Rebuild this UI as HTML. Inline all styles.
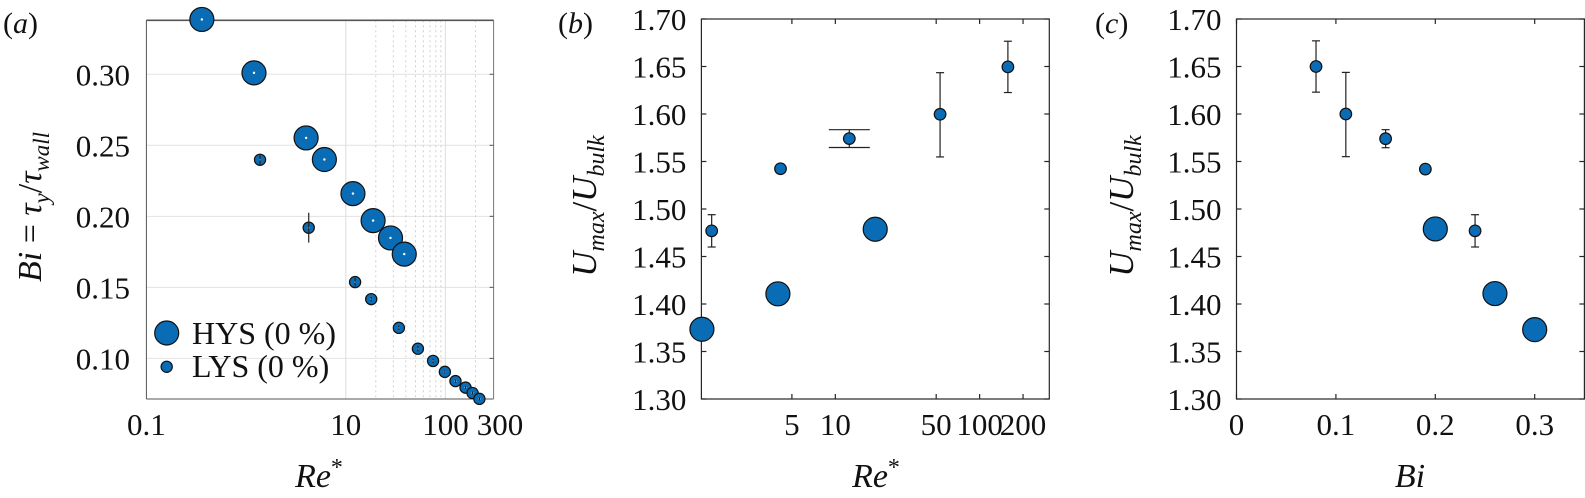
<!DOCTYPE html>
<html><head><meta charset="utf-8"><style>
html,body{margin:0;padding:0;background:#fff;}
svg, svg text{font-family:"Liberation Serif","DejaVu Serif",serif;}
</style></head><body>
<svg id="fig" width="1585" height="493" viewBox="0 0 1585 493" xmlns="http://www.w3.org/2000/svg"></svg>
<script>
// ---------- data panel a ----------
const aHysRe = [0.36, 1.2, 4.0, 6.1, 11.8, 18.8, 28.1, 38.6];
const aHysBi = [0.3386, 0.301, 0.2552, 0.240, 0.216, 0.197, 0.1848, 0.1734];
const aLysRe = [1.38, 4.25, 12.4, 18, 34.1, 52.9, 75.1, 98.6, 126, 159, 187, 219];
const aLysBi = [0.2398, 0.192, 0.1537, 0.1417, 0.1215, 0.1068, 0.0982, 0.0905, 0.084, 0.0794, 0.0756, 0.0715];
const aLysErr = [0.004, 0.0105, 0.003, 0.0015, 0.0015, 0.002, 0.0015, 0.001, 0.001, 0.001, 0.001, 0.001];
const aYTicks = [0.10, 0.15, 0.20, 0.25, 0.30];
const aYTickLabels = ["0.10", "0.15", "0.20", "0.25", "0.30"];
const aXTicks = [0.1, 10, 100, 300];
const aXTickLabels = ["0.1", "10", "100", "300"];
// ---------- data panel b ----------
const bHysRe = [1.19, 4.0, 18.9];
const bHysU = [1.3734, 1.4107, 1.4787];
const bLysRe = [1.39, 4.17, 12.5, 53.2, 157];
const bLysU = [1.477, 1.5424, 1.5741, 1.5997, 1.6496];
const bLysErrUp = [0.017, 0, 0.0094, 0.0438, 0.027];
const bLysErrDn = [0.017, 0, 0.0094, 0.0449, 0.027];
const bXTicks = [5, 10, 50, 100, 200];
const bXTickLabels = ["5", "10", "50", "100", "200"];
// ---------- data panel c ----------
const cHysBi = [0.20, 0.26, 0.30];
const cHysU = [1.479, 1.411, 1.373];
const cLysBi = [0.08, 0.11, 0.15, 0.19, 0.24];
const cLysU = [1.65, 1.60, 1.574, 1.542, 1.477];
const cLysErrUp = [0.027, 0.0438, 0.0095, 0, 0.017];
const cLysErrDn = [0.027, 0.0449, 0.0095, 0, 0.017];
const uTicks = [1.30, 1.35, 1.40, 1.45, 1.50, 1.55, 1.60, 1.65, 1.70];
const uTickLabels = ["1.30", "1.35", "1.40", "1.45", "1.50", "1.55", "1.60", "1.65", "1.70"];
const cXTicks = [0, 0.1, 0.2, 0.3];
const cXTickLabels = ["0", "0.1", "0.2", "0.3"];

const NS = "http://www.w3.org/2000/svg";
const svg = document.getElementById("fig");
const BLUE = "#0b6cb6", AX = "#262626";
const FONT = "'Liberation Serif', 'DejaVu Serif', serif";
const TK = 31; // tick font size
function mk(tag, attrs, parent, text) {
  const e = document.createElementNS(NS, tag);
  for (const k in attrs) e.setAttribute(k, attrs[k]);
  if (tag === "text") e.setAttribute("font-family", FONT);
  if (text !== undefined) e.textContent = text;
  (parent || svg).appendChild(e);
  return e;
}
function logScale(d0, d1, r0, r1) { const l0 = Math.log10(d0), l1 = Math.log10(d1); return v => r0 + (Math.log10(v) - l0) / (l1 - l0) * (r1 - r0); }
function linScale(d0, d1, r0, r1) { return v => r0 + (v - d0) / (d1 - d0) * (r1 - r0); }

function marker(g, cx, cy, r, name) {
  const c = mk("circle", {cx: cx, cy: cy, r: r, fill: BLUE, stroke: "#111", "stroke-width": 1.2}, g);
  
  
  return c;
}
function errbar(g, x, y1, y2, cap) {
  const e = mk("g", {stroke: "#222", "stroke-width": 1.2}, g);
  
  
  mk("line", {x1: x, x2: x, y1: y1, y2: y2}, e);
  if (cap > 0) {
    mk("line", {x1: x - cap, x2: x + cap, y1: y1, y2: y1}, e);
    mk("line", {x1: x - cap, x2: x + cap, y1: y2, y2: y2}, e);
  }
}

// ================= Panel a =================
(function () {
  const L = 146.4, R = 493.6, T = 20.3, B = 399;
  const xs = logScale(0.1, 304, L, R);
  const ys = linScale(0.0714, 0.338, B, T);
  const g = mk("g", {});
  
  
  const grid = mk("g", {}, g);
  
  
  aYTicks.forEach(v => mk("line", {x1: L, x2: R, y1: ys(v), y2: ys(v), stroke: "#e2e2e2", "stroke-width": 1}, grid));
  [10, 100].forEach(v => mk("line", {x1: xs(v), x2: xs(v), y1: T, y2: B, stroke: "#e2e2e2", "stroke-width": 1.2}, grid));
  [20, 30, 40, 50, 60, 70, 80, 90, 200].forEach(v => mk("line", {x1: xs(v), x2: xs(v), y1: T, y2: B, stroke: "#d0d0d0", "stroke-width": 1, "stroke-dasharray": "2,3"}, grid));
  mk("line", {x1: L, x2: L, y1: T, y2: B, stroke: "#555", "stroke-width": 1}, g);
  mk("line", {x1: L, x2: R, y1: B, y2: B, stroke: "#555", "stroke-width": 1}, g);
  mk("line", {x1: R, x2: R, y1: T, y2: B, stroke: "#777", "stroke-width": 1}, g);
  mk("line", {x1: L, x2: R, y1: T, y2: T, stroke: "#555", "stroke-width": 1.6}, g);
  aYTicks.forEach(v => mk("line", {x1: R - 4, x2: R, y1: ys(v), y2: ys(v), stroke: "#555"}, g));
  aYTicks.forEach((v, i) => { const t = mk("text", {x: 130, y: ys(v) + 11, "text-anchor": "end", "font-size": TK, fill: "#111"}, g, aYTickLabels[i]);   });
  aXTicks.forEach((v, i) => { const t = mk("text", {x: xs(v) + (i === 3 ? 7 : 0), y: 435, "text-anchor": "middle", "font-size": TK, fill: "#111"}, g, aXTickLabels[i]);   });
  aHysRe.forEach((v, i) => { marker(g, xs(v), ys(aHysBi[i]), 12, 'hys-point'); mk("circle", {cx: xs(v), cy: ys(aHysBi[i]), r: 1.2, fill: "#fff"}, g); });
  aLysRe.forEach((v, i) => {
    marker(g, xs(v), ys(aLysBi[i]), 5.6, 'lys-point');
    mk("circle", {cx: xs(v), cy: ys(aLysBi[i]), r: 1, fill: "#fff"}, g);
    errbar(g, xs(v), ys(aLysBi[i] + aLysErr[i]), ys(aLysBi[i] - aLysErr[i]), 0);
  });
  const lg = mk("g", {}, g);
  
  
  marker(lg, 166.7, 333, 12, 'legend-hys-marker');
  marker(lg, 166.7, 366.8, 5.6, 'legend-lys-marker');
  const t1 = mk("text", {x: 192, y: 344, "font-size": 32, fill: "#111"}, lg, "HYS (0 %)");
   
  const t2 = mk("text", {x: 192, y: 377, "font-size": 32, fill: "#111"}, lg, "LYS (0 %)");
   
  const pl = mk("text", {x: 3, y: 33, "font-size": 30, fill: "#111"}, g);
   
  pl.innerHTML = '(<tspan font-style="italic">a</tspan>)';
  const xl = mk("text", {x: 319, y: 487, "text-anchor": "middle", "font-size": 34, "font-style": "italic", fill: "#111"}, g);
   
  xl.innerHTML = 'Re<tspan font-style="normal" dy="-12" font-size="24">*</tspan>';
  const yl = mk("text", {x: 0, y: 0, transform: "translate(41,207) rotate(-90)", "text-anchor": "middle", "font-size": 34, fill: "#111"}, g);
   
  yl.innerHTML = '<tspan font-style="italic">Bi</tspan> = <tspan font-style="italic">τ</tspan><tspan font-style="italic" font-size="23" dy="8">y</tspan><tspan dy="-8">/</tspan><tspan font-style="italic">τ</tspan><tspan font-style="italic" font-size="23" dy="8">wall</tspan>';
})();

// ================= Panels b / c common =================
function uPanel(name, L, R, xs, xTicks, xTickLabels) {
  const T = 19, B = 399;
  const ys = linScale(1.30, 1.70, B, T);
  const g = mk("g", {});
  
  
  mk("rect", {x: L, y: T, width: R - L, height: B - T, fill: "none", stroke: AX, "stroke-width": 1.2}, g);
  uTicks.forEach((v, i) => {
    mk("line", {x1: L, x2: L + 5, y1: ys(v), y2: ys(v), stroke: AX, "stroke-width": 1.2}, g);
    mk("line", {x1: R - 5, x2: R, y1: ys(v), y2: ys(v), stroke: AX, "stroke-width": 1.2}, g);
    const t = mk("text", {x: L - 15, y: ys(v) + 11, "text-anchor": "end", "font-size": TK, fill: "#111"}, g, uTickLabels[i]);
     
  });
  xTicks.forEach((v, i) => {
    mk("line", {x1: xs(v), x2: xs(v), y1: B - 5, y2: B, stroke: AX, "stroke-width": 1.2}, g);
    mk("line", {x1: xs(v), x2: xs(v), y1: T, y2: T + 5, stroke: AX, "stroke-width": 1.2}, g);
    const t = mk("text", {x: xs(v), y: 435, "text-anchor": "middle", "font-size": TK, fill: "#111"}, g, xTickLabels[i]);
     
  });
  return {g, ys};
}

// ================= Panel b =================
(function () {
  const L = 701.4, R = 1049.3;
  const xs = logScale(1.18, 304, L, R);
  const {g, ys} = uPanel('panel-b', L, R, xs, bXTicks, bXTickLabels);
  bHysRe.forEach((v, i) => marker(g, xs(v), ys(bHysU[i]), 12, 'hys-point'));
  bLysRe.forEach((v, i) => {
    if (bLysErrUp[i] > 0) errbar(g, xs(v), ys(bLysU[i] + bLysErrUp[i]), ys(bLysU[i] - bLysErrDn[i]), i === 2 ? 20.5 : 4);
    marker(g, xs(v), ys(bLysU[i]), 5.8, 'lys-point');
  });
  const pl = mk("text", {x: 558, y: 33, "font-size": 30, fill: "#111"}, g);
   
  pl.innerHTML = '(<tspan font-style="italic">b</tspan>)';
  const xl = mk("text", {x: 876, y: 487, "text-anchor": "middle", "font-size": 34, "font-style": "italic", fill: "#111"}, g);
   
  xl.innerHTML = 'Re<tspan font-style="normal" dy="-12" font-size="24">*</tspan>';
  const yl = mk("text", {x: 0, y: 0, transform: "translate(596,206) rotate(-90)", "text-anchor": "middle", "font-size": 35, "font-style": "italic", fill: "#111"}, g);
   
  yl.innerHTML = 'U<tspan font-size="24" dy="8">max</tspan><tspan dy="-8" font-style="normal">/</tspan>U<tspan font-size="24" dy="8">bulk</tspan>';
})();

// ================= Panel c =================
(function () {
  const L = 1236.5, R = 1584.4;
  const xs = linScale(0, 0.35, L, R);
  const {g, ys} = uPanel('panel-c', L, R, xs, cXTicks, cXTickLabels);
  cHysBi.forEach((v, i) => marker(g, xs(v), ys(cHysU[i]), 12, 'hys-point'));
  cLysBi.forEach((v, i) => {
    if (cLysErrUp[i] > 0) errbar(g, xs(v), ys(cLysU[i] + cLysErrUp[i]), ys(cLysU[i] - cLysErrDn[i]), 4);
    marker(g, xs(v), ys(cLysU[i]), 5.8, 'lys-point');
  });
  const pl = mk("text", {x: 1095, y: 33, "font-size": 30, fill: "#111"}, g);
   
  pl.innerHTML = '(<tspan font-style="italic">c</tspan>)';
  const xl = mk("text", {x: 1410, y: 487, "text-anchor": "middle", "font-size": 34, "font-style": "italic", fill: "#111"}, g, "Bi");
   
  const yl = mk("text", {x: 0, y: 0, transform: "translate(1133,206) rotate(-90)", "text-anchor": "middle", "font-size": 35, "font-style": "italic", fill: "#111"}, g);
   
  yl.innerHTML = 'U<tspan font-size="24" dy="8">max</tspan><tspan dy="-8" font-style="normal">/</tspan>U<tspan font-size="24" dy="8">bulk</tspan>';
})();
</script>
</body></html>
